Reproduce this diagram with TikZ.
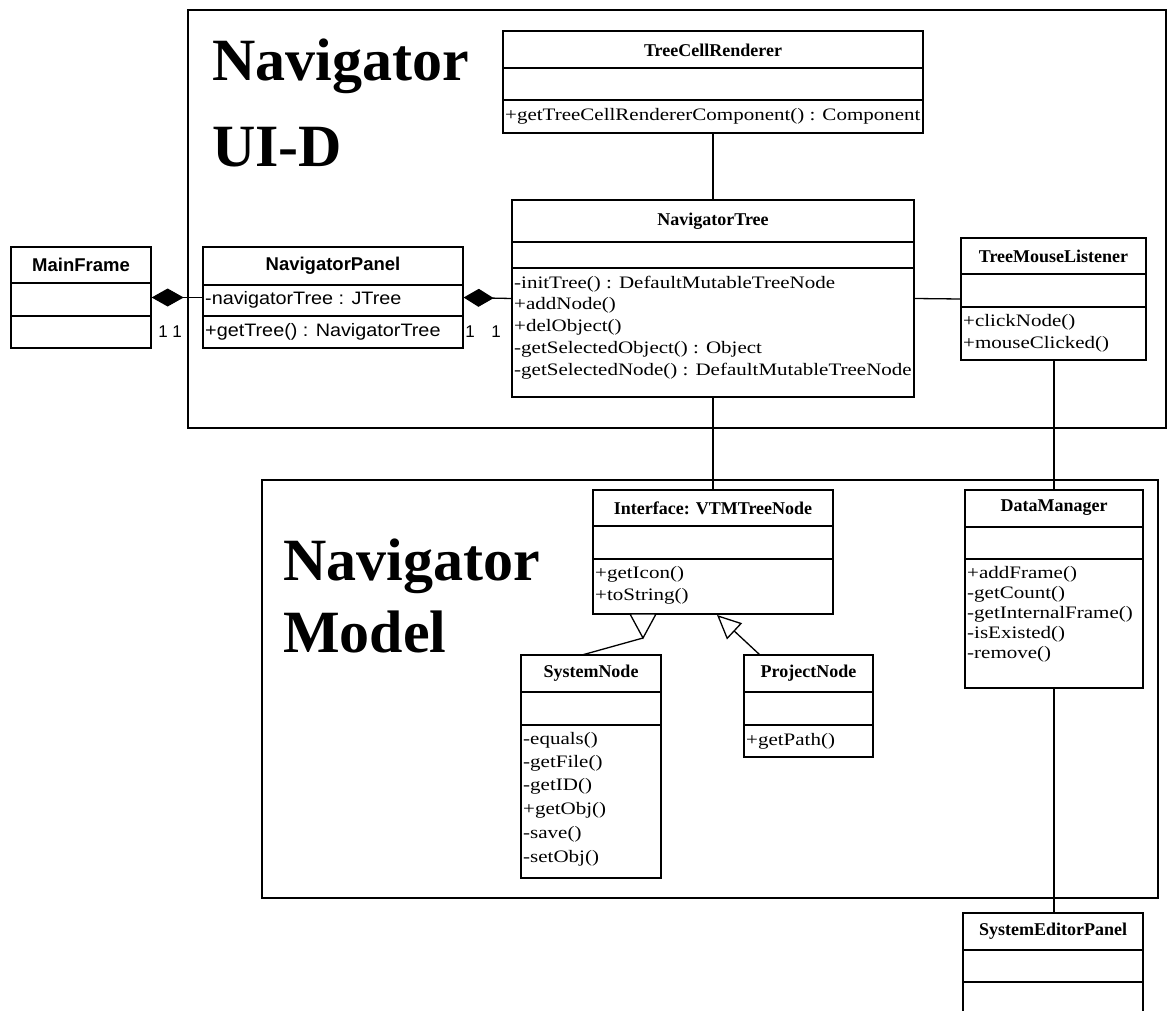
\documentclass[tikz,border=0pt]{standalone}
\usepackage{fontspec}
\setmainfont{Liberation Serif}
\newfontfamily\memberfont[FakeStretch=1.2]{Liberation Serif}
\newfontfamily\arialfont{Liberation Sans}
\newfontfamily\arialmember[FakeStretch=1.1]{Liberation Sans}
\usetikzlibrary{fit,arrows.meta}

\tikzset{
  pkg/.style={draw, line width=1.4pt},
  cls/.style={draw, line width=1.3pt, fill=white, inner sep=0pt},
  divider/.style={line width=1.2pt},
  link/.style={line width=1.3pt},
  cname/.style={font=\bfseries\fontsize{18}{18}\selectfont, inner sep=0pt},
  sname/.style={font=\arialfont\bfseries\fontsize{18.5}{18}\selectfont, inner sep=0pt},
  member/.style={font=\memberfont\fontsize{17.5}{17.5}\selectfont, anchor=west, inner sep=0pt},
  smember/.style={font=\arialmember\fontsize{18}{18}\selectfont, anchor=west, inner sep=0pt},
  mult/.style={font=\arialfont\fontsize{17}{17}\selectfont, inner sep=0pt},
  title/.style={font=\bfseries\fontsize{60}{60}\selectfont, anchor=base west, inner sep=0pt},
}

% class box: name, x1, y1, x2, y2, first divider y, second divider y
\newcommand\umlbox[7]{%
  \coordinate (#1-nw) at (#2,#3);
  \coordinate (#1-se) at (#4,#5);
  \node[cls, fit=(#1-nw)(#1-se)] (#1) {};
  \draw[divider] (#2,#6) -- (#4,#6) (#2,#7) -- (#4,#7);
}

\begin{document}
\begin{tikzpicture}[x=1pt,y=-1pt]
\useasboundingbox (0,0) rectangle (1172,1011);

% packages
\node[pkg, inner sep=0pt, fit={(188,10) (1166,428)}] (uipkg) {};
\node[pkg, inner sep=0pt, fit={(262,480) (1158,898)}] (modelpkg) {};
\node[title] (uit1) at (212,81) {Navigator};
\node[title] (uit2) at (212,167) {UI-D};
\node[title] (mdt1) at (283,580) {Navigator};
\node[title] (mdt2) at (283,652) {Model};

% connectors
\draw[link] (713,133) coordinate (tcr-b) -- (713,200) coordinate (nt-t);
\draw[link] (713,397) coordinate (nt-b) -- (713,490) coordinate (vtm-t);
\draw[link] (1054,360) coordinate (tml-b) -- (1054,490) coordinate (dm-t);
\draw[link] (1054,688) coordinate (dm-b) -- (1054,913) coordinate (sep-t);

% classes
\umlbox{mf}{11}{247}{151}{348}{283}{316}
\node[sname] (mf-name) at (81,265) {MainFrame};

\umlbox{np}{203}{247}{463}{348}{285}{316}
\node[sname] (np-name) at (333,266) {NavigatorPanel};
\node[smember] (np-a1) at (205,300) {-navigatorTree : JTree};
\node[smember] (np-o1) at (205,332) {+getTree() : NavigatorTree};

\umlbox{tcr}{503}{31}{923}{133}{68}{100}
\node[cname] (tcr-name) at (713,50) {TreeCellRenderer};
\node[member] (tcr-o1) at (505,116) {+getTreeCellRendererComponent() : Component};

\umlbox{nt}{512}{200}{914}{397}{242}{268}
\node[cname] (nt-name) at (713,221) {NavigatorTree};
\node[member] (nt-o1) at (514,284) {-initTree() : DefaultMutableTreeNode};
\node[member] (nt-o2) at (514,305.5) {+addNode()};
\node[member] (nt-o3) at (514,327) {+delObject()};
\node[member] (nt-o4) at (514,349) {-getSelectedObject() : Object};
\node[member] (nt-o5) at (514,371) {-getSelectedNode() : DefaultMutableTreeNode};

\umlbox{tml}{961}{238}{1146}{360}{274}{307}
\node[cname] (tml-name) at (1053.5,256) {TreeMouseListener};
\node[member] (tml-o1) at (963,322) {+clickNode()};
\node[member] (tml-o2) at (963,344) {+mouseClicked()};

\umlbox{vtm}{593}{490}{833}{614}{526}{559}
\node[cname] (vtm-name) at (713,508) {Interface: VTMTreeNode};
\node[member] (vtm-o1) at (595,574) {+getIcon()};
\node[member] (vtm-o2) at (595,596) {+toString()};

\umlbox{dm}{965}{490}{1143}{688}{527}{559}
\node[cname] (dm-name) at (1054,508) {DataManager};
\node[member] (dm-o1) at (967,574) {+addFrame()};
\node[member] (dm-o2) at (967,594) {-getCount()};
\node[member] (dm-o3) at (967,614) {-getInternalFrame()};
\node[member] (dm-o4) at (967,634) {-isExisted()};
\node[member] (dm-o5) at (967,654) {-remove()};

\umlbox{sn}{521}{655}{661}{878}{692}{725}
\node[cname] (sn-name) at (591,673) {SystemNode};
\node[member] (sn-o1) at (523,740) {-equals()};
\node[member] (sn-o2) at (523,763) {-getFile()};
\node[member] (sn-o3) at (523,786) {-getID()};
\node[member] (sn-o4) at (523,810) {+getObj()};
\node[member] (sn-o5) at (523,834) {-save()};
\node[member] (sn-o6) at (523,858) {-setObj()};

\umlbox{pn}{744}{655}{873}{757}{692}{725}
\node[cname] (pn-name) at (808.5,673) {ProjectNode};
\node[member] (pn-o1) at (746,741) {+getPath()};

% SystemEditorPanel runs off the bottom edge
\coordinate (sep-nw) at (963,913);
\draw[link, fill=white] (963,1015) -- (963,913) -- (1143,913) -- (1143,1015);
\draw[divider] (963,950) -- (1143,950) (963,982) -- (1143,982);
\node[cname] (sep-name) at (1053,931) {SystemEditorPanel};

% compositions
\draw[link, {Diamond[length=32pt,width=18pt]}-] (mf.east) -- (np.west);
\draw[link, {Diamond[length=30pt,width=18pt]}-] (np.east) -- (nt.west);
\node[mult] (m1) at (163,332) {1};
\node[mult] (m2) at (177,332) {1};
\node[mult] (m3) at (470,332) {1};
\node[mult] (m4) at (496,332) {1};

% association to the mouse listener
\draw[link] (nt.east) -- (tml.west);

% generalizations
\coordinate (g1) at (643,638);
\coordinate (sn-top) at (582,655);
\draw[link] (sn-top) -- (g1);
\draw[link, fill=white] (630,614) -- (656,614) -- (g1) -- cycle;
\coordinate (pn-top) at (760,655);
\coordinate (g2) at (717,615);
\draw[link, -{Triangle[open, length=24pt, width=22pt]}] (pn-top) -- (g2);
\end{tikzpicture}
\end{document}
